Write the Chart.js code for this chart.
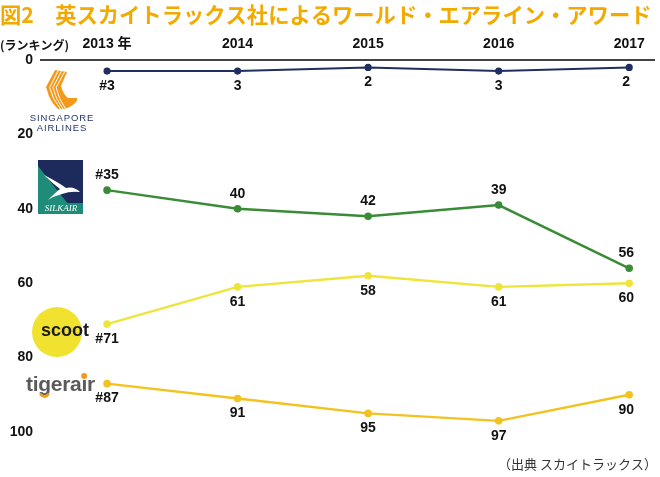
<!DOCTYPE html>
<html>
<head>
<meta charset="utf-8">
<script src="https://cdn.jsdelivr.net/npm/chart.js@4"></script>
<style>
  html, body { margin: 0; padding: 0; background: #fff; }
  #wrap { width: 660px; height: 477px; position: relative; }
</style>
</head>
<body>
<div id="wrap"><canvas id="rankChart"></canvas></div>
<script>
// データ（スカイトラックス ランキング）
const years = [2013, 2014, 2015, 2016, 2017];
const yearLabels = ["2013 年", "2014", "2015", "2016", "2017"];
const singapore = [3, 3, 2, 3, 2];
const silkair = [35, 40, 42, 39, 56];
const scoot = [71, 61, 58, 61, 60];
const tigerair = [87, 91, 95, 97, 90];
const rankTicks = [0, 20, 40, 60, 80, 100];

const LATIN = '"Liberation Sans", "Noto Sans CJK JP", sans-serif';
const CJK = '"Noto Sans CJK JP", "Liberation Sans", sans-serif';

function toPoints(arr) {
    return years.map((y, i) => ({ x: y, y: arr[i] }));
}

function series(label, arr, color, width, below) {
    return {
        label: label,
        data: toPoints(arr),
        borderColor: color,
        backgroundColor: color,
        borderWidth: width,
        pointRadius: 2.6,
        pointHoverRadius: 2.6,
        tension: 0,
        labelBelow: below
    };
}

// ラベル描画（各点の順位）
const valueLabels = {
    id: "valueLabels",
    afterDatasetsDraw(chart) {
        const ctx = chart.ctx;
        ctx.save();
        ctx.font = "bold 14px " + LATIN;
        ctx.fillStyle = "#111";
        ctx.textAlign = "center";
        ctx.textBaseline = "middle";
        chart.data.datasets.forEach((ds, di) => {
            const meta = chart.getDatasetMeta(di);
            meta.data.forEach((pt, i) => {
                const v = ds.data[i].y;
                const txt = i === 0 ? "#" + v : String(v);
                const dy = ds.labelBelow ? 15 : -15;
                ctx.fillText(txt, pt.x - (i === 4 ? 3 : 0), pt.y + dy);
            });
        });
        ctx.restore();
    }
};

// ロゴと注記
const decorations = {
    id: "decorations",
    afterDraw(chart) {
        const ctx = chart.ctx;
        ctx.save();

        // (ランキング)
        ctx.font = "bold 12px " + CJK;
        ctx.fillStyle = "#111";
        ctx.textAlign = "left";
        ctx.textBaseline = "middle";
        ctx.fillText("(ランキング)", 0, 45);

        // 出典
        ctx.font = "13px " + CJK;
        ctx.fillStyle = "#333";
        ctx.textAlign = "right";
        ctx.fillText("（出典 スカイトラックス）", 657, 464);

        // Singapore Airlines
        ctx.fillStyle = "#F39A1C";
        ctx.beginPath();
        ctx.moveTo(55, 70);
        ctx.lineTo(67, 72);
        ctx.lineTo(61, 86);
        ctx.quadraticCurveTo(63, 94, 68, 98);
        ctx.lineTo(77, 98);
        ctx.lineTo(77, 101);
        ctx.quadraticCurveTo(72, 107, 64, 109);
        ctx.lineTo(58, 109);
        ctx.quadraticCurveTo(50, 102, 47, 90);
        ctx.lineTo(46, 87);
        ctx.closePath();
        ctx.fill();
        ctx.strokeStyle = "#fff";
        ctx.lineWidth = 1;
        for (let k = 1; k <= 3; k++) {
            const o = k * 3.2;
            ctx.beginPath();
            ctx.moveTo(55 + o, 70 + k * 0.6);
            ctx.lineTo(46.5 + o, 87.5);
            ctx.quadraticCurveTo(49 + o, 99, 58 + o * 0.8, 109);
            ctx.stroke();
        }
        ctx.fillStyle = "#24356B";
        ctx.font = "9.5px " + LATIN;
        ctx.textAlign = "center";
        ctx.letterSpacing = "0.9px";
        ctx.fillText("SINGAPORE", 62, 118);
        ctx.fillText("AIRLINES", 62, 128);
        ctx.letterSpacing = "0px";

        // SilkAir
        ctx.fillStyle = "#1C2B5C";
        ctx.fillRect(38, 160, 45, 54);
        ctx.fillStyle = "#1E8C78";
        ctx.beginPath();
        ctx.moveTo(38, 166);
        ctx.lineTo(76, 214);
        ctx.lineTo(38, 214);
        ctx.closePath();
        ctx.fill();
        ctx.fillRect(38, 203, 45, 11);
        ctx.fillStyle = "#fff";
        ctx.beginPath();
        ctx.moveTo(44, 175);
        ctx.quadraticCurveTo(58, 182, 66, 188);
        ctx.quadraticCurveTo(74, 186, 80, 192);
        ctx.quadraticCurveTo(70, 191, 62, 194);
        ctx.quadraticCurveTo(54, 196, 48, 200);
        ctx.quadraticCurveTo(56, 192, 60, 189);
        ctx.quadraticCurveTo(52, 183, 44, 175);
        ctx.fill();
        ctx.font = "italic 9px \"Liberation Serif\", serif";
        ctx.textAlign = "center";
        ctx.fillText("SILKAIR", 61, 209);

        // Scoot
        ctx.fillStyle = "#F0E22E";
        ctx.beginPath();
        ctx.arc(57, 332, 25, 0, Math.PI * 2);
        ctx.fill();
        ctx.fillStyle = "#1a1a1a";
        ctx.font = "bold 18px " + LATIN;
        ctx.textAlign = "center";
        ctx.fillText("scoot", 65, 331);

        // Tigerair
        ctx.fillStyle = "#5a5a5a";
        ctx.font = "bold 21px " + LATIN;
        ctx.textAlign = "left";
        ctx.textBaseline = "alphabetic";
        ctx.letterSpacing = "-0.3px";
        ctx.fillText("tigerair", 26, 391);
        const wTi = ctx.measureText("ti").width;
        const wG = ctx.measureText("g").width;
        const wTigera = ctx.measureText("tigera").width;
        const wI = ctx.measureText("i").width;
        ctx.letterSpacing = "0px";
        ctx.fillStyle = "#F29A1E";
        ctx.beginPath();
        ctx.arc(26 + wTigera + wI / 2, 376, 3, 0, Math.PI * 2);
        ctx.fill();
        ctx.strokeStyle = "#F29A1E";
        ctx.lineWidth = 2.6;
        ctx.beginPath();
        ctx.arc(26 + wTi + wG / 2, 392, 4.5, 0.1 * Math.PI, 0.9 * Math.PI);
        ctx.stroke();

        ctx.restore();
    }
};

const ctx = document.getElementById("rankChart").getContext("2d");

new Chart(ctx, {
    type: "line",
    data: {
        datasets: [
            series("Singapore Airlines", singapore, "#1F2F60", 2, true),
            series("SilkAir", silkair, "#3A8B35", 2.4, false),
            series("Scoot", scoot, "#EEE53A", 2.4, true),
            series("Tigerair", tigerair, "#F3C21F", 2.4, true)
        ]
    },
    options: {
        responsive: true,
        maintainAspectRatio: false,
        animation: false,
        events: [],
        layout: {
            padding: { left: 0, right: 6, top: 0, bottom: 45 }
        },
        plugins: {
            legend: { display: false },
            tooltip: { enabled: false },
            title: {
                display: true,
                text: "図2　英スカイトラックス社によるワールド・エアライン・アワード",
                align: "start",
                color: "#F2A900",
                font: { family: CJK, size: 21.3, weight: "bold" },
                padding: { top: 2, bottom: 0 }
            }
        },
        scales: {
            x: {
                type: "linear",
                position: "top",
                min: 2012.494,
                max: 2017.19,
                afterBuildTicks: (scale) => {
                    scale.ticks = years.map(v => ({ value: v }));
                },
                afterFit: (scale) => {
                    scale.height = 32.4;
                },
                ticks: {
                    autoSkip: false,
                    maxRotation: 0,
                    padding: 7,
                    color: "#111",
                    font: { family: LATIN, size: 14, weight: "bold" },
                    callback: (v) => yearLabels[years.indexOf(v)]
                },
                grid: { display: false, drawTicks: false },
                border: { display: true, color: "#444", width: 2 }
            },
            y: {
                min: 0,
                max: 100,
                reverse: true,
                afterBuildTicks: (scale) => {
                    scale.ticks = rankTicks.map(v => ({ value: v }));
                },
                afterFit: (scale) => {
                    scale.width = 41;
                },
                ticks: {
                    padding: 8,
                    color: "#111",
                    font: { family: LATIN, size: 14, weight: "bold" }
                },
                grid: { display: false, drawTicks: false },
                border: { display: false }
            }
        }
    },
    plugins: [valueLabels, decorations]
});
</script>
</body>
</html>
